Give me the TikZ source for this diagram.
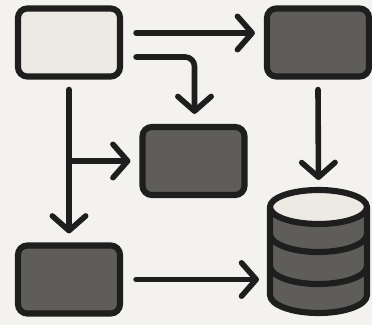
\documentclass[tikz,border=0pt]{standalone}
\usetikzlibrary{arrows.meta,calc}
\definecolor{bgc}{HTML}{F3F2EF}
\definecolor{lightc}{HTML}{ECEAE3}
\definecolor{darkc}{HTML}{5E5D59}
\definecolor{inkc}{HTML}{1E1E1E}
\tikzset{
  x=0.75pt,y=-0.75pt,
  boxbase/.style={draw=inkc,line width=4.6pt,rounded corners=7pt,minimum width=76.5pt,minimum height=51pt,inner sep=0pt,anchor=center},
  lightbox/.style={boxbase,fill=lightc},
  darkbox/.style={boxbase,fill=darkc},
  arr/.style={draw=inkc,line width=4.2pt,line cap=round,line join=round,rounded corners=7pt,-{Straight Barb[length=11pt,width=25pt,line width=4.2pt,round]}},
  cyl/.style={draw=inkc,line width=4.6pt,line join=round}
}
\begin{document}
\begin{tikzpicture}
\useasboundingbox (0,0) rectangle (372,325);
\fill[bgc] (0,0) rectangle (372,325);
\node[lightbox] (a) at (69,42.5) {};
\node[darkbox] (b) at (318,42.5) {};
\node[darkbox] (c) at (193.5,161) {};
\node[darkbox] (d) at (69,279.5) {};
\coordinate (dbtop) at (318.5,207);
\coordinate (dbn) at (318.5,190);
\coordinate (dbw) at (270,279.5);
% cylinder
\draw[cyl,fill=darkc] (270,207) -- (270,295) arc[start angle=180,end angle=0,x radius=48.5,y radius=18] -- (367,207) -- cycle;
\draw[cyl] (270,234) arc[start angle=180,end angle=0,x radius=48.5,y radius=18];
\draw[cyl] (270,266) arc[start angle=180,end angle=0,x radius=48.5,y radius=18];
\draw[cyl,fill=lightc] (dbtop) ellipse[x radius=48.5,y radius=17];
% connectors
\draw[arr] ($(a.east)+(13,-9.5)$) -- ($(b.west)+(-9,-9.5)$);
\draw[arr] ($(a.east)+(13,14.5)$) -| ($(c.north)+(1,-10)$);
\draw[arr] ($(a.south)+(0,10)$) -- ($(d.north)+(0,-9)$);
\draw[arr] (a.south |- c.west) -- ($(c.west)+(-9,0)$);
\draw[arr] ($(d.east)+(13,0)$) -- ($(dbw)+(-11,0)$);
\draw[arr] ($(b.south)+(0,10)$) -- ($(dbn)+(0,-10)$);
\end{tikzpicture}
\end{document}
